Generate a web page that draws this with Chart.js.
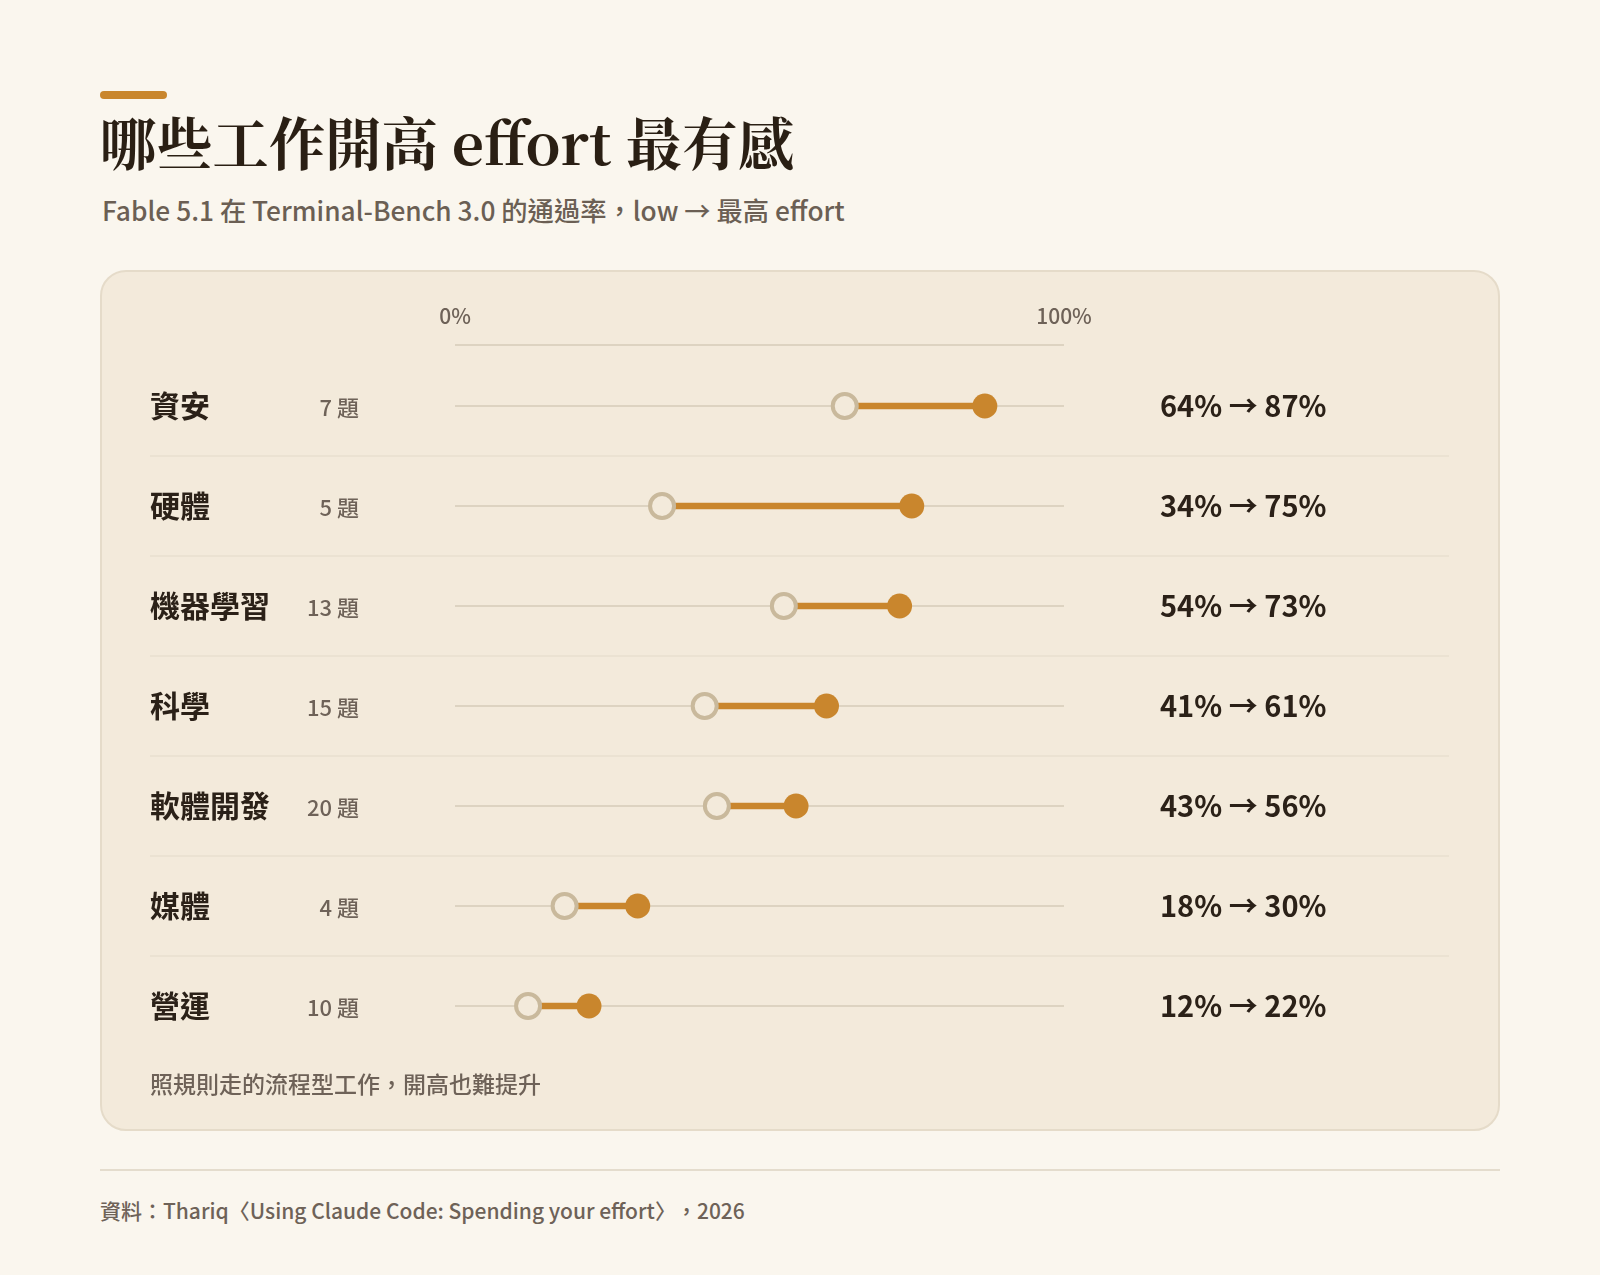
<!DOCTYPE html>
<html lang="zh-Hant">
<head>
<meta charset="utf-8">
<title>哪些工作開高 effort 最有感</title>
<script src="https://cdn.jsdelivr.net/npm/chart.js@4.4.1/dist/chart.umd.min.js"></script>
<style>
  html, body { margin: 0; padding: 0; }
  body {
    width: 1600px; height: 1275px; position: relative; overflow: hidden;
    background: #faf6ee;
    font-family: "Noto Sans CJK TC", "Noto Sans", sans-serif;
    text-spacing-trim: space-all;
  }
  .accent { position: absolute; left: 100px; top: 91px; width: 67px; height: 8px; border-radius: 4px; background: #c9862d; }
  .title {
    position: absolute; left: 100px; top: 108px; line-height: 66px;
    font-family: "Noto Serif CJK TC", "Noto Serif TC", "Source Han Serif TC", "Noto Sans CJK TC", serif;
    font-weight: 700; font-size: 56.3px; color: #2a1f14; white-space: nowrap;
  }
  .subtitle {
    position: absolute; left: 102px; top: 193px; line-height: 34px;
    font-size: 26.3px; font-weight: 500; color: #6b5f54; white-space: nowrap;
  }
  .card {
    position: absolute; left: 100px; top: 270px; width: 1400px; height: 861px;
    box-sizing: border-box; border: 2px solid #e5dbc9; border-radius: 26px; background: #f3eadb;
  }
  #chartWrap { position: absolute; left: 100px; top: 270px; width: 1400px; height: 861px; }
  .note {
    position: absolute; left: 150px; top: 1068px; line-height: 30px;
    font-size: 23px; font-weight: 500; color: #6e6258; white-space: nowrap;
  }
  .rule { position: absolute; left: 100px; top: 1169px; width: 1400px; height: 2px; background: #e4dccd; }
  .source {
    position: absolute; left: 100px; top: 1195px; line-height: 30px;
    font-size: 21px; font-weight: 500; color: #6e6258; white-space: nowrap;
  }
</style>
</head>
<body>
<div class="accent"></div>
<div class="title">哪些工作開高 effort 最有感</div>
<div class="subtitle">Fable 5.1 在 Terminal-Bench 3.0 的通過率，low → 最高 effort</div>
<div class="card"></div>
<div id="chartWrap"><canvas id="chart" width="1400" height="861"></canvas></div>
<div class="note">照規則走的流程型工作，開高也難提升</div>
<div class="rule"></div>
<div class="source">資料：Thariq〈Using Claude Code: Spending your effort〉，2026</div>

<script>
// ---- data ----
const categories = ['資安', '硬體', '機器學習', '科學', '軟體開發', '媒體', '營運'];
const taskCounts = [7, 5, 13, 15, 20, 4, 10];
const lowValues  = [64, 34, 54, 41, 43, 18, 12];
const highValues = [87, 75, 73, 61, 56, 30, 22];
const xTickValues = [0, 100];

const ORANGE = '#c9862d';
const RING = '#c9b99c';
const CARD = '#f3eadb';
const TRACK = '#ddd3c1';
const SANS = '"Noto Sans CJK TC", "Noto Sans", sans-serif';

const textPlugin = {
  id: 'rowText',
  beforeDatasetsDraw(chart) {
    const ctx = chart.ctx;
    const x = chart.scales.x, y = chart.scales.y;
    ctx.save();
    // axis line above the rows
    ctx.strokeStyle = TRACK;
    ctx.lineWidth = 2;
    const ay = chart.chartArea.top - 11;
    ctx.beginPath();
    ctx.moveTo(x.getPixelForValue(0), ay);
    ctx.lineTo(x.getPixelForValue(100), ay);
    ctx.stroke();
    // row separators
    ctx.strokeStyle = '#e8dfcf';
    ctx.lineWidth = 1.5;
    for (let i = 0; i < categories.length - 1; i++) {
      const sy = (y.getPixelForValue(i) + y.getPixelForValue(i + 1)) / 2;
      ctx.beginPath();
      ctx.moveTo(50, sy);
      ctx.lineTo(1349, sy);
      ctx.stroke();
    }
    ctx.restore();
  },
  afterDatasetsDraw(chart) {
    const ctx = chart.ctx;
    const y = chart.scales.y;
    ctx.save();
    ctx.textBaseline = 'middle';
    categories.forEach((c, i) => {
      const py = y.getPixelForValue(i);
      ctx.fillStyle = '#2b2118';
      ctx.textAlign = 'left';
      ctx.font = 'bold 30px ' + SANS;
      ctx.fillText(c, 50, py);
      ctx.fillStyle = '#6e6258';
      ctx.textAlign = 'right';
      ctx.font = '500 22px ' + SANS;
      ctx.fillText(taskCounts[i] + ' 題', 259, py + 2);
      ctx.fillStyle = '#2b2118';
      ctx.textAlign = 'left';
      ctx.font = 'bold 29px ' + SANS;
      ctx.fillText(lowValues[i] + '% → ' + highValues[i] + '%', 1060, py);
    });
    ctx.restore();
  }
};

function build() {
  new Chart(document.getElementById('chart'), {
    type: 'bar',
    data: {
      labels: categories,
      datasets: [
        {
          type: 'line', label: 'high', showLine: false, order: 1,
          data: highValues.map((v, i) => ({ x: v, y: categories[i] })),
          pointStyle: 'circle', pointRadius: 12.5, pointBorderWidth: 0,
          pointBackgroundColor: ORANGE, pointBorderColor: ORANGE
        },
        {
          type: 'line', label: 'low', showLine: false, order: 2,
          data: lowValues.map((v, i) => ({ x: v, y: categories[i] })),
          pointStyle: 'circle', pointRadius: 12, pointBorderWidth: 4,
          pointBackgroundColor: CARD, pointBorderColor: RING
        },
        {
          type: 'bar', label: 'range', order: 3,
          data: lowValues.map((v, i) => [v, highValues[i]]),
          backgroundColor: ORANGE, borderWidth: 0, borderSkipped: false,
          barThickness: 6
        }
      ]
    },
    options: {
      indexAxis: 'y',
      responsive: false,
      animation: false,
      events: [],
      layout: { padding: { left: 355, right: 436, top: 26, bottom: 75 } },
      plugins: { legend: { display: false }, tooltip: { enabled: false } },
      scales: {
        x: {
          type: 'linear', position: 'top', min: 0, max: 100,
          grid: { display: false, drawTicks: false },
          border: { display: false },
          afterBuildTicks: (s) => { s.ticks = xTickValues.map(v => ({ value: v })); },
          afterFit: (s) => { s.height = 60; },
          ticks: {
            padding: 27, color: '#6e6258', maxRotation: 0, autoSkip: false,
            font: { family: SANS, size: 21, weight: '500' },
            callback: (v) => v + '%'
          }
        },
        y: {
          type: 'category', offset: true,
          grid: { offset: false, color: TRACK, lineWidth: 2, drawTicks: false },
          border: { display: false },
          ticks: { display: false },
          afterFit: (s) => { s.width = 0; }
        }
      }
    },
    plugins: [textPlugin]
  });
}
if (document.fonts && document.fonts.ready) { document.fonts.ready.then(build); } else { build(); }
</script>
</body>
</html>
